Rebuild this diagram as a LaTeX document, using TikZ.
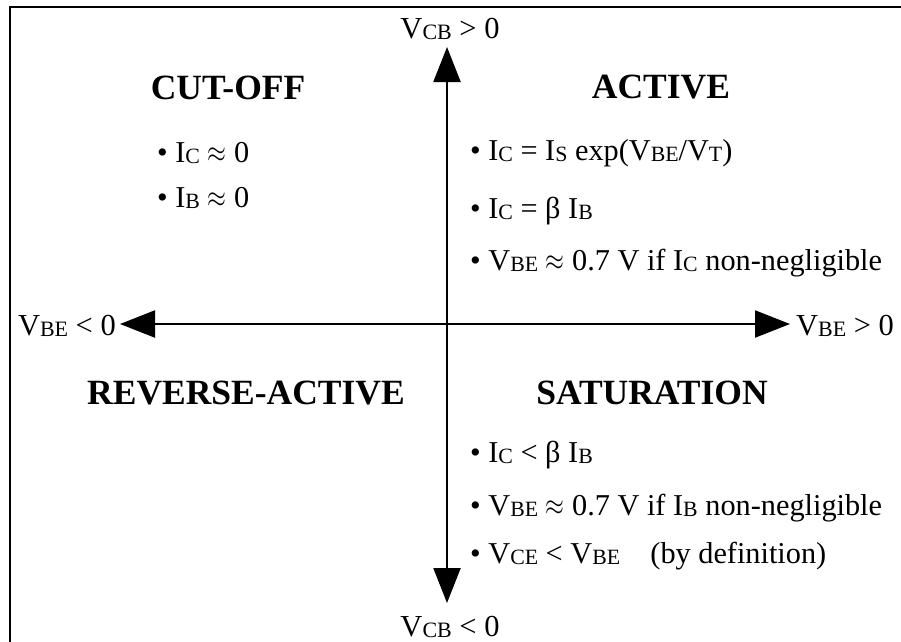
\RequirePackage{fix-cm}
\documentclass[tikz,border=0pt]{standalone}
\usepackage{graphicx}
\usepackage{fontspec}
\setmainfont{Liberation Serif}
\usepackage{tikz}
\usetikzlibrary{arrows.meta}
% lowered, smaller subscript letters
\newcommand{\sbs}[1]{\raisebox{-0.06em}{\scalebox{0.72}{#1}}}
% wide, low approx sign
\newcommand{\apx}{\scalebox{0.8}[1]{$\approx$}}
\tikzset{
regiontitle/.style={
  anchor=base,
  inner sep=0pt,
  font=\fontsize{35.5}{40}\selectfont\bfseries
},
bulletline/.style={
  anchor=base west,
  inner sep=0pt,
  font=\fontsize{30.3}{36}\selectfont
},
axislabel/.style={
  inner sep=0pt,
  font=\fontsize{30.5}{34}\selectfont
},
axisarrow/.style={
  {Triangle[length=35pt,width=27pt]}-{Triangle[length=35pt,width=27pt]},
  line width=2.2pt
},
frameline/.style={
  line width=2pt
}
}

\begin{document}
\begin{tikzpicture}[x=1pt, y=-1pt]
\useasboundingbox (0,0) rectangle (901,641);
\clip (0,0) rectangle (901,641);

% ============================================================================
% Frame
% ============================================================================
\draw[frameline] (10,7) rectangle (912,652);

% ============================================================================
% Axes
% ============================================================================
\coordinate (north) at (447,47);
\coordinate (south) at (447,603);
\coordinate (west) at (120,324);
\coordinate (east) at (790,324);
\draw[axisarrow] (south) -- (north);
\draw[axisarrow] (west) -- (east);

\node[axislabel, anchor=base] (vcbpos) at (450,38) {V\sbs{CB} > 0};
\node[axislabel, anchor=base] (vcbneg) at (450,636) {V\sbs{CB} < 0};
\node[axislabel, anchor=base east] (vbeneg) at (116,335) {V\sbs{BE} < 0};
\node[axislabel, anchor=base west] (vbepos) at (796,335) {V\sbs{BE} > 0};

% ============================================================================
% Cut-off
% ============================================================================
\node[regiontitle] (cutoff) at (228,99) {CUT-OFF};
\node[bulletline] (cut1) at (157,162) {• I\sbs{C} \apx{} 0};
\node[bulletline] (cut2) at (157,207) {• I\sbs{B} \apx{} 0};

% ============================================================================
% Active
% ============================================================================
\node[regiontitle] (active) at (661,98) {ACTIVE};
\node[bulletline] (act1) at (470,160) {• I\sbs{C} = I\sbs{S} exp(V\sbs{BE}/V\sbs{T})};
\node[bulletline] (act2) at (470,218) {• I\sbs{C} = β I\sbs{B}};
\node[bulletline] (act3) at (470,270) {• V\sbs{BE} \apx{} 0.7 V if I\sbs{C} non-negligible};

% ============================================================================
% Reverse-active
% ============================================================================
\node[regiontitle] (reverse) at (246,404) {REVERSE-ACTIVE};

% ============================================================================
% Saturation
% ============================================================================
\node[regiontitle] (saturation) at (652,404) {SATURATION};
\node[bulletline] (sat1) at (470,462) {• I\sbs{C} < β I\sbs{B}};
\node[bulletline] (sat2) at (470,515) {• V\sbs{BE} \apx{} 0.7 V if I\sbs{B} non-negligible};
\node[bulletline] (sat3) at (470,563) {• V\sbs{CE} < V\sbs{BE}\quad(by definition)};

\end{tikzpicture}
\end{document}
